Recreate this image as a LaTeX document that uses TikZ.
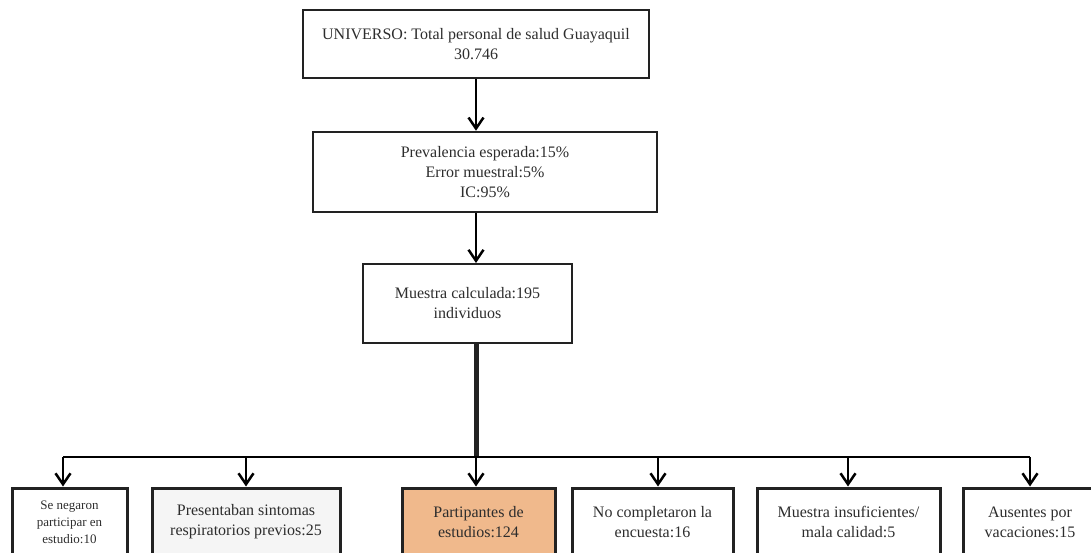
\documentclass[tikz,border=0pt]{standalone}
\usepackage{fontspec}
\setmainfont{Liberation Serif}
\usepackage{tikz}
\usetikzlibrary{arrows.meta}
\definecolor{dline}{RGB}{34,34,34}
\definecolor{dtext}{RGB}{45,45,45}
\definecolor{lgray}{RGB}{245,245,245}
\definecolor{porange}{RGB}{240,185,140}
\tikzset{
  bx/.style={draw=dline,line width=2.5pt,align=center,text=dtext,inner sep=0pt,font=\fontsize{16}{20}\selectfont},
  bxsmall/.style={bx,font=\fontsize{13}{17}\selectfont},
  bxgray/.style={bx,fill=lgray},
  bxorange/.style={bx,fill=porange},
  ar/.style={draw=black,line width=2.5pt,-{Straight Barb[length=11pt,width=15pt,line width=2.5pt]}},
  trunk/.style={draw=dline,line width=5pt},
  hbar/.style={draw=black,line width=2pt},
}

\begin{document}
\begin{tikzpicture}[x=1pt,y=-1pt]
\useasboundingbox (0,0) rectangle (1091,553);
\clip (0,0) rectangle (1091,553);
\node[bx,minimum width=346,minimum height=68] (univ) at (476,44) {UNIVERSO: Total personal de salud Guayaquil\\30.746};
\node[bx,minimum width=344,minimum height=80] (prev) at (485,172) {Prevalencia esperada:15\%\\Error muestral:5\%\\IC:95\%};
\node[bx,line width=2pt,minimum width=209,minimum height=79] (calc) at (467.5,303.5) {Muestra calculada:195\\individuos};
\node[bxsmall,line width=3pt,minimum width=115,minimum height=68] (nega) at (69.5,522) {Se negaron\\participar en\\estudio:10};
\node[bxgray,line width=3pt,minimum width=188,minimum height=68] (pres) at (246,522) {Presentaban sintomas\\respiratorios previos:25};
\node[bxorange,line width=3pt,minimum width=153,minimum height=68] (part) at (478.5,522) {Partipantes de\\estudios:124};
\node[bx,line width=3pt,minimum width=161,minimum height=68] (nocom) at (652.5,522) {No completaron la\\encuesta:16};
\node[bx,line width=3pt,minimum width=183,minimum height=68] (mues) at (848.5,522) {Muestra insuficientes/\\mala calidad:5};
\node[bx,line width=3pt,minimum width=134,minimum height=68] (aus) at (1030,522) {Ausentes por\\vacaciones:15};
\coordinate (hub) at (476,457);
\draw[ar] (univ) -- (univ |- prev.north);
\draw[ar] (prev.south -| hub) -- (hub |- calc.north);
\draw[trunk] (calc.south -| hub) -- (hub);
\foreach \n/\x in {nega/63,pres/246,part/476,nocom/658,mues/848,aus/1030}
  \coordinate (top\n) at (\x,457);
\draw[hbar] (topnega) -- (topaus);
\foreach \n in {nega,pres,part,nocom,mues,aus}
  \draw[ar] (top\n) -- (top\n |- \n.north);
\end{tikzpicture}
\end{document}
